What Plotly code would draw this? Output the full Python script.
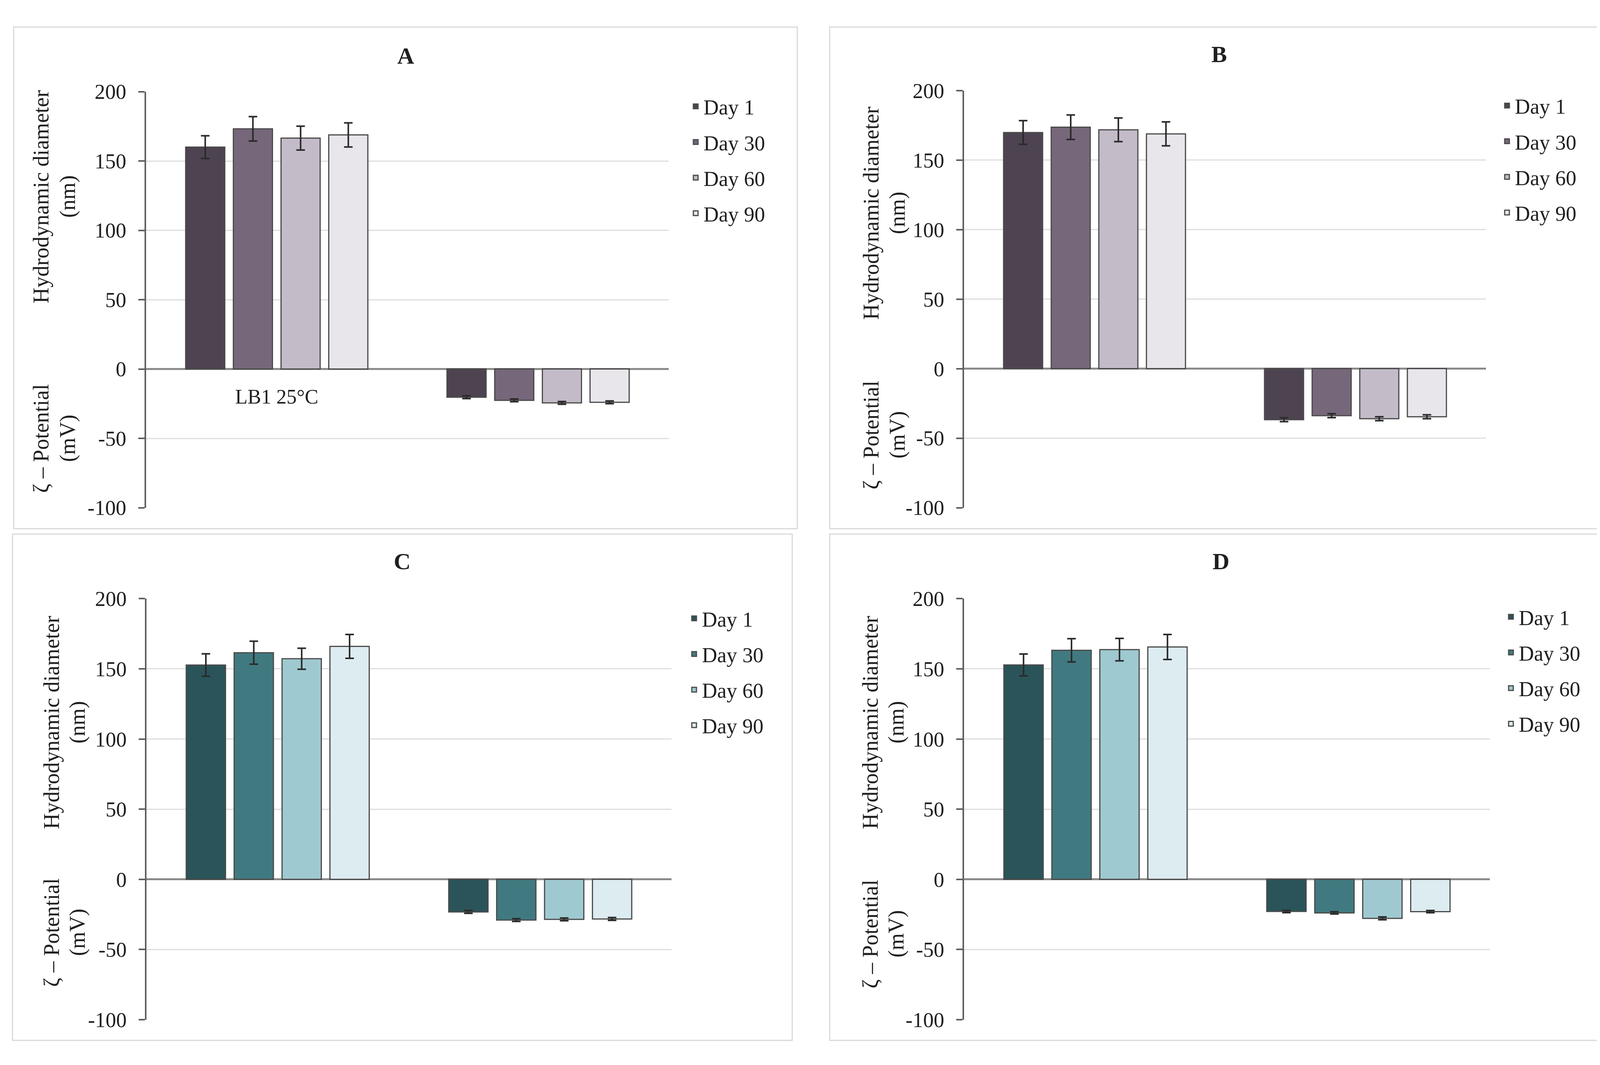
import plotly.graph_objects as go

W, H = 4126, 2726

days = ["Day 1", "Day 30", "Day 60", "Day 90"]
categories = ["LB1 25°C", "ζ"]
panel_names = ["A", "B", "C", "D"]
tick_values = [-100, -50, 0, 50, 100, 150, 200]
tick_labels = ["-100", "-50", "0", "50", "100", "150", "200"]

A_size = [160.0, 173.2, 166.5, 168.8]
A_size_err = [8.2, 8.8, 8.6, 8.7]
A_zeta = [-20.3, -22.6, -24.4, -24.0]
A_zeta_err = [1.0, 1.0, 1.0, 1.0]

B_size = [169.8, 173.6, 171.7, 168.8]
B_size_err = [8.5, 8.8, 8.5, 8.6]
B_zeta = [-36.7, -33.8, -36.0, -34.6]
B_zeta_err = [1.4, 1.4, 1.4, 1.4]

C_size = [152.7, 161.5, 157.2, 166.0]
C_size_err = [8.0, 8.2, 7.5, 8.5]
C_zeta = [-23.2, -29.0, -28.5, -28.2]
C_zeta_err = [1.0, 1.0, 1.0, 1.0]

D_size = [152.8, 163.2, 163.7, 165.6]
D_size_err = [7.8, 8.3, 8.0, 8.9]
D_zeta = [-22.9, -23.9, -27.8, -23.0]
D_zeta_err = [0.8, 0.8, 1.0, 0.8]

purple = ["#4e4451", "#76677a", "#c3bbc8", "#e8e6eb"]
teal = ["#2a5459", "#407a80", "#9fc9d0", "#ddecf0"]

y_title_size = "Hydrodynamic diameter"
y_title_size_unit = "(nm)"
y_title_zeta = "ζ – Potential"
y_title_zeta_unit = "(mV)"

FONT = "Liberation Serif"
TXT = "#1f1f1f"

panels = [
    dict(name="A", size=A_size, serr=A_size_err, zeta=A_zeta, zerr=A_zeta_err, colors=purple,
         xd=(366, 1704), yd=(202, 1291), frame=(27, 33, 2033, 1346), title=(1030, 108),
         leg=(1753, 198), ytx=(97, 166), ysc=477, yzc=1110),
    dict(name="B", size=B_size, serr=B_size_err, zeta=B_zeta, zerr=B_zeta_err, colors=purple,
         xd=(2460, 3796), yd=(199, 1291), frame=(2116, 33, 4106, 1346), title=(3113, 104),
         leg=(3830, 196), ytx=(2222, 2290), ysc=520, yzc=1101),
    dict(name="C", size=C_size, serr=C_size_err, zeta=C_zeta, zerr=C_zeta_err, colors=teal,
         xd=(367, 1711), yd=(1529, 2631), frame=(24, 1360, 2020, 2685), title=(1021, 1432),
         leg=(1749, 1538), ytx=(124, 190), ysc=1853, yzc=2403),
    dict(name="D", size=D_size, serr=D_size_err, zeta=D_zeta, zerr=D_zeta_err, colors=teal,
         xd=(2460, 3806), yd=(1529, 2631), frame=(2116, 1360, 4100, 2685), title=(3117, 1432),
         leg=(3840, 1534), ytx=(2220, 2286), ysc=1853, yzc=2407),
]

def px(x):
    return x / W

def py(y):
    return 1 - y / H

fig = go.Figure()
layout = dict(
    width=W, height=H, margin=dict(l=0, r=0, t=0, b=0),
    paper_bgcolor="white", plot_bgcolor="white",
    barmode="group", bargap=0.27, bargroupgap=0.18,
    font=dict(family=FONT, color=TXT, size=50),
    showlegend=True,
)
annotations = []
shapes = []

for i, p in enumerate(panels):
    k = "" if i == 0 else str(i + 1)
    xa, ya = "x" + k, "y" + k
    leg = "legend" + k
    for d in range(4):
        fig.add_trace(go.Bar(
            x=categories, y=[p["size"][d], p["zeta"][d]],
            name=days[d], legend=leg, legendgroup=p["name"] + days[d],
            marker=dict(color=p["colors"][d], line=dict(color="#4a4a4a", width=3)),
            error_y=dict(type="data", array=[p["serr"][d], p["zerr"][d]],
                         color="#2a2a2a", thickness=4, width=11),
            xaxis=xa, yaxis=ya,
        ))
    layout["xaxis" + k] = dict(
        domain=[px(p["xd"][0]), px(p["xd"][1])], anchor=ya,
        type="category", categoryorder="array", categoryarray=categories,
        range=[-0.5, 1.5], showticklabels=False, showgrid=False,
        showline=False, zeroline=False, ticks="",
    )
    layout["yaxis" + k] = dict(
        domain=[py(p["yd"][1]), py(p["yd"][0])], anchor=xa,
        range=[-100, 200], tickmode="array", tickvals=tick_values, ticktext=tick_labels,
        showgrid=True, gridcolor="#dedede", gridwidth=3,
        showline=True, linecolor="#5f5f5f", linewidth=4,
        ticks="outside", ticklen=16, tickwidth=4, tickcolor="#5f5f5f",
        zeroline=True, zerolinecolor="#8a8a8a", zerolinewidth=5,
        tickfont=dict(family=FONT, size=54, color=TXT),
        ticklabelstandoff=20,
    )
    layout[leg] = dict(
        x=px(p["leg"][0]), y=py(p["leg"][1]), xanchor="left", yanchor="top",
        font=dict(family=FONT, size=54, color=TXT),
        bgcolor="rgba(0,0,0,0)", tracegroupgap=18, traceorder="grouped",
    )
    shapes.append(dict(type="rect", xref="paper", yref="paper",
                       x0=px(p["frame"][0]), x1=px(p["frame"][2]),
                       y0=py(p["frame"][3]), y1=py(p["frame"][1]),
                       line=dict(color="#d9d9d9", width=3), layer="below"))
    annotations.append(dict(text="<b>" + p["name"] + "</b>", xref="paper", yref="paper",
                            x=px(p["title"][0]), y=py(p["title"][1]),
                            xanchor="center", yanchor="middle", showarrow=False,
                            font=dict(family=FONT, size=60, color=TXT)))
    for txt, xx, yy in [(y_title_size, p["ytx"][0], p["ysc"]),
                        (y_title_size_unit, p["ytx"][1], p["ysc"]),
                        (y_title_zeta, p["ytx"][0], p["yzc"]),
                        (y_title_zeta_unit, p["ytx"][1], p["yzc"])]:
        annotations.append(dict(text=txt, xref="paper", yref="paper",
                                x=px(xx), y=py(yy), xanchor="center", yanchor="middle",
                                textangle=-90, showarrow=False,
                                font=dict(family=FONT, size=56, color=TXT)))

annotations.append(dict(text=categories[0], xref="x", yref="y", x=categories[0], y=-20,
                        xanchor="center", yanchor="middle", showarrow=False,
                        font=dict(family=FONT, size=52, color=TXT)))

layout["annotations"] = annotations
layout["shapes"] = shapes
fig.update_layout(**layout)
fig.write_html("out.html")
